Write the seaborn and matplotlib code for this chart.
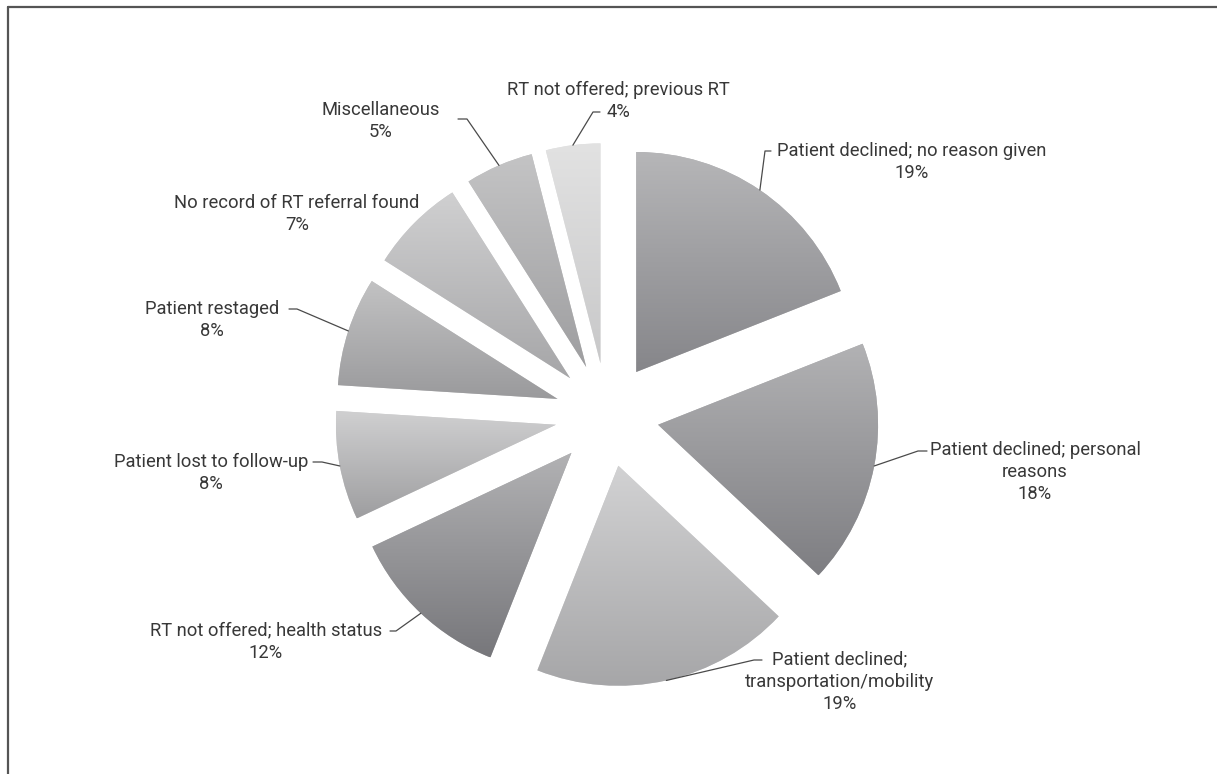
import matplotlib.pyplot as plt
import matplotlib.lines as mlines
import numpy as np
import seaborn as sns

# Reasons and shares (%)
reasons = [
    "Patient declined; no reason given",
    "Patient declined; personal\nreasons",
    "Patient declined;\ntransportation/mobility",
    "RT not offered; health status",
    "Patient lost to follow-up",
    "Patient restaged",
    "No record of RT referral found",
    "Miscellaneous",
    "RT not offered; previous RT",
]
shares = [19, 18, 19, 12, 8, 8, 7, 5, 4]

# vertical gradient of each slice (top colour, bottom colour)
top_cols = ["#b6b6b8", "#b2b2b4", "#d2d2d3", "#b2b2b4", "#d0d0d1",
            "#c2c2c3", "#d0d0d1", "#c4c4c5", "#e2e2e2"]
bot_cols = ["#86868a", "#7e7e82", "#a6a6a8", "#77777b", "#9e9ea0",
            "#9a9a9c", "#a6a6a8", "#9e9ea0", "#c8c8c9"]

sns.set_style("white")
plt.rcParams['font.family'] = ['Roboto', 'DejaVu Sans']

W, H = 1217, 774
fig = plt.figure(figsize=(W / 100, H / 100), dpi=100)
ax = fig.add_axes([0, 0, 1, 1])

cx, cy = 607, H - 415
R = 220
wedges, _ = ax.pie(shares, startangle=90, counterclock=False, radius=R,
                   center=(cx, cy), explode=[52] * len(shares),
                   colors=top_cols, wedgeprops=dict(linewidth=0))

grad = np.linspace(0, 1, 256).reshape(-1, 1)
for w, c1, c2 in zip(wedges, top_cols, bot_cols):
    bb = w.get_path().get_extents()
    cmap = sns.blend_palette([c1, c2], as_cmap=True)
    im = ax.imshow(grad, extent=[bb.x0, bb.x1, bb.y0, bb.y1], origin='upper',
                   cmap=cmap, aspect='auto', zorder=w.get_zorder() + 0.1)
    im.set_clip_path(w)

# text block centres and leader elbows/ends (pixels from top-left)
text_pos = [(912, 162), (1035, 472), (840, 682), (266, 642), (211, 473),
            (212, 320), (297, 214), (381, 121), (618, 101)]
leaders = [((765, 151), (771, 151)), ((918, 451), (927, 451)),
           ((754, 660), (762, 660)), ((396, 631), (390, 631)),
           ((322, 462), (313, 462)), ((297, 309), (289, 309)),
           None, ((467, 119), (458, 119)), ((593, 112), (600, 112))]

for w, name, val, (tx, ty), ld in zip(wedges, reasons, shares, text_pos, leaders):
    ax.text(tx, H - ty, f"{name}\n{val}%", ha='center', va='center',
            fontsize=13.2, color='#383838', linespacing=1.32)
    if ld is None:
        continue
    tm = np.radians((w.theta1 + w.theta2) / 2)
    ax0 = w.center[0] + w.r * np.cos(tm)
    ay0 = w.center[1] + w.r * np.sin(tm)
    xs = [ax0, ld[0][0], ld[1][0]]
    ys = [ay0, H - ld[0][1], H - ld[1][1]]
    ax.plot(xs, ys, color='#4a4a4a', lw=0.9, zorder=5)

ax.set_xlim(0, W)
ax.set_ylim(0, H)
ax.set_aspect('equal')
ax.axis('off')

# partial frame (left and top edges)
fig.add_artist(mlines.Line2D([8 / W, 8 / W], [0, 1 - 7 / H], color='#555555', lw=1.6))
fig.add_artist(mlines.Line2D([8 / W, 1], [1 - 7 / H, 1 - 7 / H], color='#555555', lw=1.6))

fig.savefig("out.png", dpi=100)
